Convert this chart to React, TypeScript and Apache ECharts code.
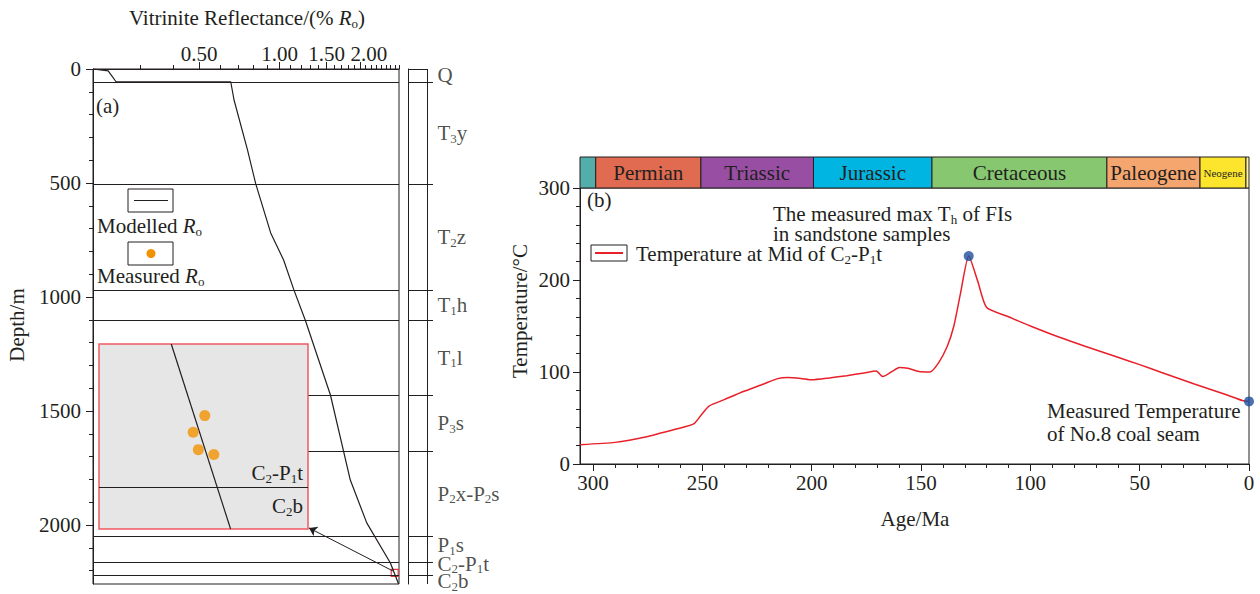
import React, { useEffect, useRef } from 'react';
import * as echarts from 'echarts';

const FONT = '"Liberation Serif", "Times New Roman", serif';
const INK = '#231f20';

// ---------- Panel (a): vitrinite reflectance vs depth ----------
const roDepth = [0, 8, 56, 56, 136, 355, 504, 719, 838, 969, 1104, 1430, 1803, 1991, 2167, 2259];
const roValue = [0.2, 0.228, 0.244, 0.656, 0.675, 0.758, 0.814, 0.926, 1.035, 1.131, 1.25, 1.55, 1.84, 2.12, 2.6, 2.79];
const roMin = 0.2;
const roMax = 2.8;
const roLabelTicks = [0.5, 1.0, 1.5, 2.0];
const roMinorTicks = [0.3, 0.4, 0.6, 0.7, 0.8, 0.9, 1.1, 1.2, 1.3, 1.4, 1.6, 1.7, 1.8, 1.9, 2.1, 2.2, 2.3, 2.4, 2.5, 2.6, 2.7, 2.8];
const depthMax = 2259;
const depthLabelTicks = [0, 500, 1000, 1500, 2000];
const depthMinorTicks = [100, 200, 300, 400, 600, 700, 800, 900, 1100, 1200, 1300, 1400, 1600, 1700, 1800, 1900, 2100, 2200];

const formationLabels = ['Q', 'T{s|3}y', 'T{s|2}z', 'T{s|1}h', 'T{s|1}l', 'P{s|3}s', 'P{s|2}x-P{s|2}s', 'P{s|1}s', 'C{s|2}-P{s|1}t', 'C{s|2}b'];
const formationLabelDepth = [28, 281, 737, 1037, 1267, 1554, 1864, 2088, 2170, 2248];
const formationBoundaries = [56, 505, 970, 1104, 1430, 1678, 2051, 2164, 2219];
const boundariesFull = [56, 505, 970, 1104, 2051, 2164, 2219];
const boundariesPartial = [1430, 1678];
const insetEdgeRo = 1.283;

// zoomed window (inset)
const insetRoRange = [2.618, 2.78];
const insetDepthRange = [2195, 2226];
const insetModelRo = [2.674, 2.72];
const insetModelDepth = [2195, 2226];
const measuredRo = [2.7, 2.691, 2.695, 2.707];
const measuredDepth = [2207.0, 2209.8, 2212.7, 2213.5];
const insetBoundary = 2219;
const arrowFrom = [2.658, 2202];
const arrowTo = [1.288, 2013];

// ---------- Panel (b): burial temperature history ----------
const tempAge = [306, 290, 275, 262, 254, 250, 247, 240, 231, 222, 216, 211, 205, 200, 192, 184, 176, 170.5, 167.5, 163, 160, 156, 151, 146, 142, 138, 135, 132, 128.2, 124, 120, 110, 100, 87, 75, 60, 50, 40, 25, 10, 3, 0];
const tempValue = [21, 23.5, 30, 38, 43.5, 55, 63, 70, 79, 87, 92.5, 94, 93, 91.5, 93.5, 96, 99, 101, 95, 101, 105, 104, 100.5, 100, 110, 128, 150, 185, 226, 198, 170, 160, 150, 138, 128, 116, 108, 99.5, 87, 75, 69, 68];
const measuredAge = [128.2, 0];
const measuredTemp = [226, 68];
const ageMax = 306;
const ageLabelTicks = [0, 50, 100, 150, 200, 250, 300];
const ageMinorTicks = [10, 20, 30, 40, 60, 70, 80, 90, 110, 120, 130, 140, 160, 170, 180, 190, 210, 220, 230, 240, 260, 270, 280, 290];

const periodNames = ['', 'Permian', 'Triassic', 'Jurassic', 'Cretaceous', 'Paleogene', 'Neogene', ''];
const periodStart = [306, 298.8, 250.7, 199.2, 145, 65, 22.4, 1.4];
const periodEnd = [298.8, 250.7, 199.2, 145, 65, 22.4, 1.4, 0];
const periodColors = ['#53aeaa', '#e06b50', '#984ea3', '#00b5e2', '#86c76f', '#f5a56e', '#fde42d', '#fff49a'];
const epochTicks = [268.6, 258.3, 244.1, 227, 175, 160.8, 99, 55.2, 33.5, 4.9];

const lg = (v: number) => Math.log10(v);

const richLabel = {
  s: { fontSize: 13, lineHeight: 13, padding: [10, 0, 0, 0], fontFamily: FONT, color: INK },
  i: { fontSize: 21, lineHeight: 20, fontStyle: 'italic', fontFamily: FONT, color: INK },
};
const richGraphic = {
  s: { fontSize: 13, lineHeight: 13, padding: [10, 0, 0, 0], fontFamily: FONT, fill: INK },
  i: { fontSize: 21, lineHeight: 20, fontStyle: 'italic', fontFamily: FONT, fill: INK },
};

function txt(x: number, y: number, text: string, align = 'left', rotation = 0, fontSize = 21) {
  return {
    type: 'text',
    x,
    y,
    rotation,
    z: 100,
    style: {
      text,
      fill: INK,
      fontSize,
      fontFamily: FONT,
      lineHeight: 20,
      align,
      textAlign: align,
      verticalAlign: 'middle',
      textVerticalAlign: 'middle',
      rich: richGraphic,
    },
  };
}

const hiddenAxisBase = {
  axisLine: { show: false, onZero: false },
  axisTick: { show: false },
  axisLabel: { show: false },
  splitLine: { show: false },
};

function buildOption() {
  const axisText = { color: INK, fontSize: 21, fontFamily: FONT };
  const lineStyle = { color: INK, width: 1 };
  const plain = (v: number) => String(Math.round(v));

  const grids = [
    { left: 93, top: 69, width: 306, height: 515, show: true, borderColor: INK, borderWidth: 1, backgroundColor: 'transparent' },
    { left: 99, top: 344, width: 209, height: 185, show: true, borderColor: '#ef5a63', borderWidth: 1.5, backgroundColor: '#e6e6e6' },
    { left: 408, top: 69, width: 25, height: 515, show: false },
    { left: 580, top: 188, width: 669, height: 276, show: true, borderColor: INK, borderWidth: 1, backgroundColor: 'transparent' },
    { left: 580, top: 157, width: 669, height: 31, show: false },
  ];

  const xAxes = [
    {
      gridIndex: 0, type: 'value', position: 'top', min: lg(roMin), max: lg(roMax),
      axisLine: { show: true, onZero: false, lineStyle },
      axisTick: { show: true, length: 7, customValues: roLabelTicks.map(lg), lineStyle },
      axisLabel: {
        show: true, customValues: roLabelTicks.map(lg), margin: 5, ...axisText,
        showMinLabel: true, showMaxLabel: true,
        formatter: (v: number) => {
          const s = Math.pow(10, v).toFixed(2);
          return s === '2.00' ? '{r|' + s + '}' : s;
        },
        rich: { r: { padding: [0, 0, 0, 18], fontSize: 21, fontFamily: FONT, color: INK } },
      },
      splitLine: { show: false },
    },
    {
      gridIndex: 0, type: 'value', position: 'top', min: lg(roMin), max: lg(roMax),
      axisLine: { show: false, onZero: false },
      axisTick: { show: true, length: 4, customValues: roMinorTicks.map(lg), lineStyle },
      axisLabel: { show: false },
      splitLine: { show: false },
    },
    { gridIndex: 1, type: 'value', min: insetRoRange[0], max: insetRoRange[1], ...hiddenAxisBase },
    { gridIndex: 2, type: 'value', min: 0, max: 25, ...hiddenAxisBase },
    {
      gridIndex: 3, type: 'value', position: 'bottom', inverse: true, min: 0, max: ageMax,
      axisLine: { show: true, onZero: false, lineStyle },
      axisTick: { show: true, length: 7, customValues: ageLabelTicks, lineStyle },
      axisLabel: { show: true, customValues: ageLabelTicks, margin: 8, showMinLabel: true, showMaxLabel: true, formatter: plain, ...axisText },
      splitLine: { show: false },
    },
    {
      gridIndex: 3, type: 'value', position: 'bottom', inverse: true, min: 0, max: ageMax,
      axisLine: { show: false, onZero: false },
      axisTick: { show: true, length: 4, customValues: ageMinorTicks, lineStyle },
      axisLabel: { show: false },
      splitLine: { show: false },
    },
    {
      gridIndex: 4, type: 'value', position: 'bottom', inverse: true, min: 0, max: ageMax,
      axisLine: { show: false, onZero: false },
      axisTick: { show: true, inside: true, length: 5, customValues: epochTicks, lineStyle },
      axisLabel: { show: false },
      splitLine: { show: false },
    },
  ];

  const yAxes = [
    {
      gridIndex: 0, type: 'value', position: 'left', inverse: true, min: 0, max: depthMax,
      axisLine: { show: true, onZero: false, lineStyle },
      axisTick: { show: true, length: 7, customValues: depthLabelTicks, lineStyle },
      axisLabel: { show: true, customValues: depthLabelTicks, margin: 12, showMinLabel: true, showMaxLabel: true, formatter: plain, ...axisText },
      splitLine: { show: false },
    },
    {
      gridIndex: 0, type: 'value', position: 'left', inverse: true, min: 0, max: depthMax,
      axisLine: { show: false, onZero: false },
      axisTick: { show: true, length: 4, customValues: depthMinorTicks, lineStyle },
      axisLabel: { show: false },
      splitLine: { show: false },
    },
    { gridIndex: 1, type: 'value', inverse: true, min: insetDepthRange[0], max: insetDepthRange[1], ...hiddenAxisBase },
    {
      gridIndex: 2, type: 'value', position: 'left', inverse: true, min: 0, max: depthMax,
      axisLine: { show: true, onZero: false, lineStyle },
      axisTick: { show: false }, axisLabel: { show: false }, splitLine: { show: false },
    },
    {
      gridIndex: 3, type: 'value', position: 'left', min: 0, max: 300, interval: 100,
      axisLine: { show: true, onZero: false, lineStyle },
      axisTick: { show: true, length: 7, lineStyle },
      minorTick: { show: true, splitNumber: 5, length: 4, lineStyle },
      axisLabel: { show: true, margin: 10, showMinLabel: true, showMaxLabel: true, formatter: plain, ...axisText },
      splitLine: { show: false },
      minorSplitLine: { show: false },
    },
    { gridIndex: 4, type: 'value', min: 0, max: 1, ...hiddenAxisBase },
  ];

  const solid = { color: INK, width: 1, type: 'solid' };

  const mainMarkLines: any[] = [];
  boundariesFull.forEach((d) => mainMarkLines.push({ yAxis: d }));
  boundariesPartial.forEach((d) =>
    mainMarkLines.push([{ coord: [lg(insetEdgeRo), d] }, { coord: [lg(roMax), d] }])
  );
  mainMarkLines.push([
    { coord: [lg(arrowFrom[0]), arrowFrom[1]], symbol: 'none' },
    { coord: [lg(arrowTo[0]), arrowTo[1]], symbol: 'arrow', symbolSize: 8 },
  ]);

  const columnLines: any[] = [];
  const colRight = 19;
  formationBoundaries.forEach((d) => columnLines.push([{ coord: [0, d] }, { coord: [25, d] }]));
  columnLines.push([{ coord: [0, 0] }, { coord: [colRight, 0] }]);
  columnLines.push([{ coord: [colRight, 0] }, { coord: [colRight, depthMax] }]);

  const periodAreas = periodNames.map((name, i) => [
    {
      name,
      xAxis: periodStart[i],
      itemStyle: { color: periodColors[i], borderColor: INK, borderWidth: 1 },
      label: name === 'Neogene' ? { fontSize: 11 } : {},
    },
    { xAxis: periodEnd[i] },
  ]);

  const series: any[] = [
    {
      type: 'line',
      xAxisIndex: 0, yAxisIndex: 0,
      data: roValue.map((r, i) => [lg(r), roDepth[i]]),
      symbol: 'none',
      lineStyle: { color: INK, width: 1.2 },
      silent: true,
      z: 3,
      markLine: {
        silent: true, symbol: ['none', 'none'], label: { show: false },
        lineStyle: solid, data: mainMarkLines,
      },
      markArea: {
        silent: true,
        itemStyle: { color: 'rgba(0,0,0,0)', borderColor: '#e8383d', borderWidth: 1.2 },
        data: [[{ coord: [lg(insetRoRange[0]), insetDepthRange[0]] }, { coord: [lg(insetRoRange[1]), insetDepthRange[1]] }]],
      },
    },
    {
      type: 'line',
      xAxisIndex: 2, yAxisIndex: 2,
      data: insetModelRo.map((r, i) => [r, insetModelDepth[i]]),
      symbol: 'none',
      lineStyle: { color: INK, width: 1.2 },
      silent: true,
      z: 4,
      markLine: {
        silent: true, symbol: ['none', 'none'], label: { show: false },
        lineStyle: solid, data: [{ yAxis: insetBoundary }],
      },
    },
    {
      type: 'scatter',
      xAxisIndex: 2, yAxisIndex: 2,
      data: measuredRo.map((r, i) => [r, measuredDepth[i]]),
      symbolSize: 11,
      itemStyle: { color: '#f39200' },
      silent: true,
      z: 5,
    },
    {
      type: 'scatter',
      xAxisIndex: 3, yAxisIndex: 3,
      data: formationLabels.map((_, i) => [25, formationLabelDepth[i]]),
      symbolSize: 1,
      itemStyle: { color: 'rgba(0,0,0,0)' },
      silent: true,
      clip: false,
      label: {
        show: true, position: 'right', distance: 4,
        color: INK, fontSize: 21, fontFamily: FONT, lineHeight: 18,
        formatter: (p: any) => formationLabels[p.dataIndex],
        rich: richLabel,
      },
      labelLayout: { hideOverlap: false },
      markLine: {
        silent: true, symbol: ['none', 'none'], label: { show: false },
        lineStyle: solid, data: columnLines,
      },
    },
    {
      type: 'line',
      xAxisIndex: 4, yAxisIndex: 4,
      data: tempAge.map((a, i) => [a, tempValue[i]]),
      symbol: 'none',
      smooth: 0.2,
      lineStyle: { color: '#e8202a', width: 1.5 },
      silent: true,
    },
    {
      type: 'scatter',
      xAxisIndex: 4, yAxisIndex: 4,
      data: measuredAge.map((a, i) => [a, measuredTemp[i]]),
      symbolSize: 10,
      itemStyle: { color: '#1d4f9c' },
      clip: false,
      silent: true,
      z: 5,
    },
    {
      type: 'line',
      xAxisIndex: 6, yAxisIndex: 5,
      data: [],
      symbol: 'none',
      silent: true,
      markArea: {
        silent: true,
        label: { show: true, position: 'inside', color: INK, fontSize: 21, fontFamily: FONT },
        data: periodAreas,
      },
    },
  ];

  const graphic: any[] = [
    txt(247, 18, 'Vitrinite Reflectance/(% {i|R}{s|o})', 'center'),
    txt(17, 325, 'Depth/m', 'center', Math.PI / 2),
    txt(96, 106, '(a)'),
    {
      type: 'rect', z: 100, shape: { x: 128, y: 189, width: 45, height: 23 },
      style: { fill: '#fff', stroke: INK, lineWidth: 1 },
    },
    {
      type: 'line', z: 101, shape: { x1: 134, y1: 200.5, x2: 168, y2: 200.5 },
      style: { stroke: INK, lineWidth: 1.2 },
    },
    txt(97, 226, 'Modelled {i|R}{s|o}'),
    {
      type: 'rect', z: 100, shape: { x: 128, y: 242, width: 45, height: 23 },
      style: { fill: '#fff', stroke: INK, lineWidth: 1 },
    },
    {
      type: 'circle', z: 101, shape: { cx: 151, cy: 253.5, r: 4.5 },
      style: { fill: '#f39200' },
    },
    txt(97, 276, 'Measured {i|R}{s|o}'),
    txt(303, 473, 'C{s|2}-P{s|1}t', 'right'),
    txt(303, 506, 'C{s|2}b', 'right'),

    txt(520, 311, 'Temperature/°C', 'center', Math.PI / 2),
    txt(915, 519, 'Age/Ma', 'center'),
    txt(587, 200, '(b)'),
    {
      type: 'rect', z: 100, shape: { x: 591, y: 245, width: 36, height: 16 },
      style: { fill: '#fff', stroke: INK, lineWidth: 1 },
    },
    {
      type: 'line', z: 101, shape: { x1: 595, y1: 253, x2: 623, y2: 253 },
      style: { stroke: '#e8202a', lineWidth: 2 },
    },
    txt(636, 254, 'Temperature at Mid of C{s|2}-P{s|1}t'),
    txt(773, 214, 'The measured max T{s|h} of FIs'),
    txt(773, 234, 'in sandstone samples'),
    txt(1047, 411, 'Measured Temperature'),
    txt(1047, 434, 'of No.8 coal seam'),
  ];

  return {
    animation: false,
    backgroundColor: '#ffffff',
    textStyle: { fontFamily: FONT, color: INK },
    grid: grids,
    xAxis: xAxes,
    yAxis: yAxes,
    series,
    graphic,
  };
}

export default function App() {
  const ref = useRef<HTMLDivElement>(null);
  useEffect(() => {
    if (!ref.current) return;
    const chart = echarts.init(ref.current, undefined, { renderer: 'svg' });
    chart.setOption(buildOption() as any);
    return () => chart.dispose();
  }, []);
  return (
    <div
      ref={ref}
      style={{ position: 'fixed', left: 0, top: 0, width: 1260, height: 594, background: '#fff' }}
    />
  );
}
